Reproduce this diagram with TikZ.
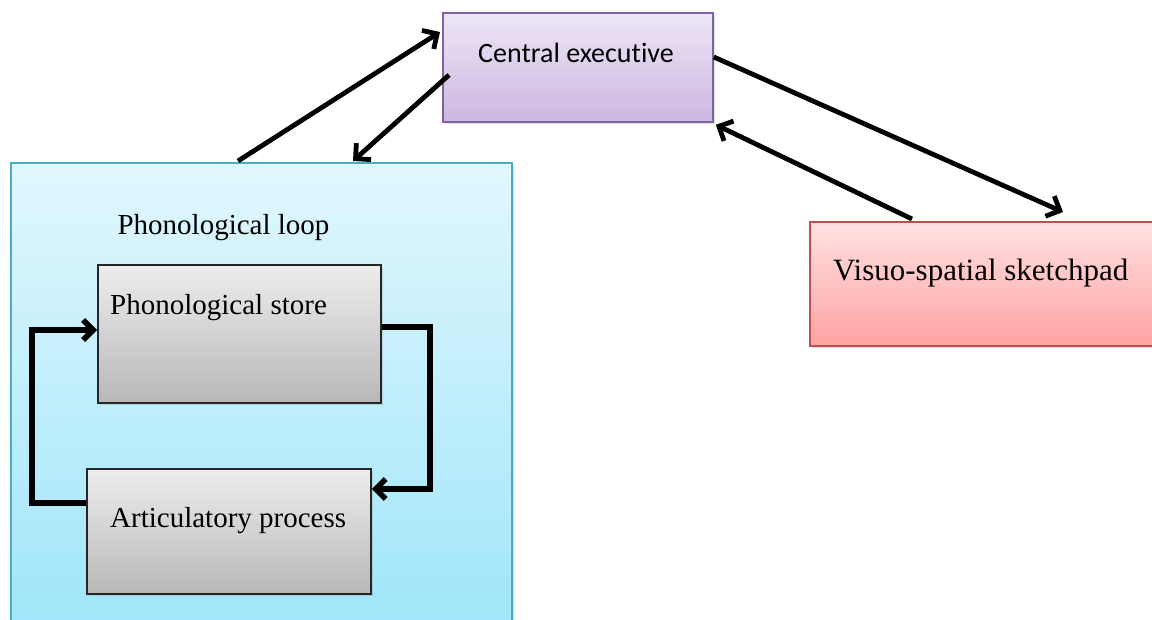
\documentclass[tikz,border=0pt]{standalone}
\usepackage{fontspec}
\setmainfont{Liberation Serif}
\newfontfamily\calib[Ligatures={NoCommon,NoRare,NoDiscretionary}]{Carlito}
\usetikzlibrary{arrows.meta,calc,shadows}
\definecolor{ceborder}{HTML}{8064A2}
\definecolor{cetop}{HTML}{EEE6F6}
\definecolor{cebot}{HTML}{CBB7E0}
\definecolor{plborder}{HTML}{4BACC6}
\definecolor{pltop}{HTML}{E1F7FD}
\definecolor{plbot}{HTML}{9EE5FA}
\definecolor{grtop}{HTML}{EDEDED}
\definecolor{grbot}{HTML}{B8B8B8}
\definecolor{vsborder}{HTML}{C0504D}
\definecolor{vstop}{HTML}{FFE2E2}
\definecolor{vsbot}{HTML}{FFA2A2}
\tikzset{
  boxbase/.style={draw, inner sep=0pt, anchor=north west, line width=1.8pt,
    drop shadow={opacity=0.25, shadow xshift=2pt, shadow yshift=-2pt}},
  cebox/.style={boxbase, draw=ceborder, top color=cetop, bottom color=cebot},
  plbox/.style={boxbase, draw=plborder, top color=pltop, bottom color=plbot},
  grbox/.style={boxbase, draw=black!85, top color=grtop, bottom color=grbot},
  vsbox/.style={boxbase, draw=vsborder, top color=vstop, bottom color=vsbot},
  serif/.style={font=\fontsize{29}{32}\selectfont, inner sep=0pt},
  arr/.style={line width=4.8pt, -{Straight Barb[length=11pt,width=22pt]}},
  looparr/.style={line width=5.5pt, -{Straight Barb[length=10pt,width=20pt]}}
}
\begin{document}
\begin{tikzpicture}[x=1pt,y=-1pt]
\useasboundingbox (0,0) rectangle (1152,620);
\clip (0,0) rectangle (1152,620);
% boxes
\node[plbox, minimum width=501pt, minimum height=478pt] (pl) at (10,162) {};
\node[cebox, minimum width=270pt, minimum height=109pt] (ce) at (442,12) {};
\node[grbox, minimum width=283pt, minimum height=138pt] (ps) at (97,264) {};
\node[grbox, minimum width=284pt, minimum height=125pt] (ap) at (86,468) {};
\node[vsbox, minimum width=360pt, minimum height=124pt] (vs) at (809,221) {};
% texts
\node[font=\calib\fontsize{28}{32}\selectfont, inner sep=0pt] (cet) at (576,53) {Central executive};
\node[serif] (plt) at (223.5,228) {Phonological loop};
\node[serif, anchor=west] (pst) at (110,308) {Phonological store};
\node[serif, anchor=west] (apt) at (110,521) {Articulatory process};
\node[serif, font=\fontsize{31}{34}\selectfont, anchor=west] (vst) at (833,273) {Visuo-spatial sketchpad};
% connectors
\draw[arr] ($(pl.north west)+(228,-1)$) -- ($(ce.north west)+(-2,20)$);
\draw[arr] ($(ce.north west)+(7,63)$) -- ($(pl.north west)+(343,-1)$);
\draw[arr] ($(ce.north east)+(0,45)$) -- ($(vs.north west)+(254,-9)$);
\draw[arr] ($(vs.north west)+(103,-2)$) -- ($(ce.south east)+(2,2)$);
\draw[looparr] ($(ap.north west)+(0,35)$) -- ++(-54,0) |- ($(ps.north west)+(0,66)$);
\draw[looparr] ($(ps.north east)+(0,63)$) -- ++(48,0) |- ($(ap.north east)+(0,21)$);
\end{tikzpicture}
\end{document}
